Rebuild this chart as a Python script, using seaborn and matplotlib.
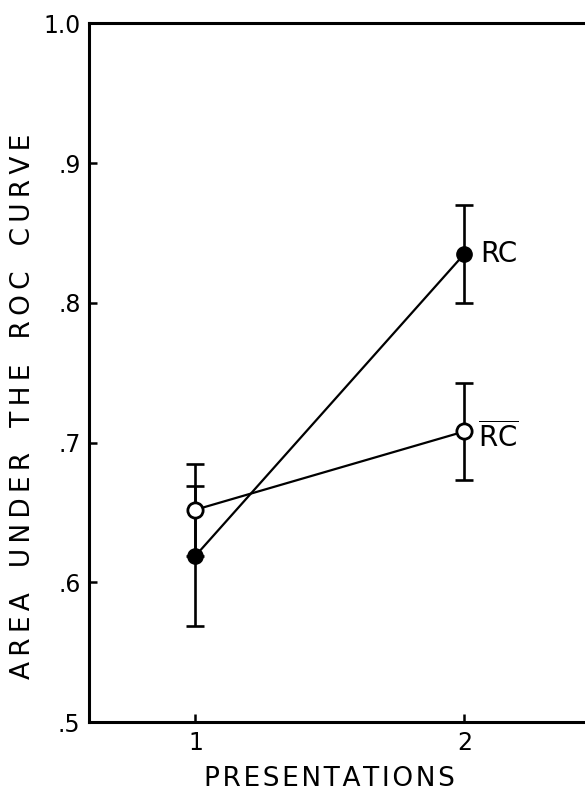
import matplotlib
matplotlib.use("Agg")
import matplotlib.pyplot as plt
import seaborn as sns
import pandas as pd

# data
presentations = [1, 2]
rc_mean = [0.619, 0.835]
rc_err = [0.050, 0.035]
rcbar_mean = [0.652, 0.708]
rcbar_err = [0.033, 0.035]

sns.set_style("ticks")
plt.rcParams['font.family'] = ['DejaVu Sans']
plt.rcParams['mathtext.fontset'] = 'dejavusans'
plt.rcParams['text.color'] = 'black'
plt.rcParams['axes.labelcolor'] = 'black'
plt.rcParams['xtick.color'] = 'black'
plt.rcParams['ytick.color'] = 'black'

df = pd.DataFrame({
    'x': presentations * 2,
    'y': rc_mean + rcbar_mean,
    'grp': ['RC'] * 2 + ['RCbar'] * 2,
})

fig = plt.figure(figsize=(5.85, 8.06), dpi=100)
ax = fig.add_axes([0.152, 0.104, 0.86, 0.867])

sns.lineplot(data=df, x='x', y='y', hue='grp', palette=['black', 'black'],
             linewidth=1.6, legend=False, ax=ax, zorder=2)

# error bars
ax.errorbar(presentations, rc_mean, yerr=rc_err, fmt='none', ecolor='black',
            elinewidth=1.9, capsize=6.5, capthick=1.9, zorder=1)
ax.errorbar(presentations, rcbar_mean, yerr=rcbar_err, fmt='none', ecolor='black',
            elinewidth=1.9, capsize=6.5, capthick=1.9, zorder=1)

# markers
ax.plot(presentations, rc_mean, 'o', color='black', ms=11, zorder=4)
ax.plot(presentations, rcbar_mean, 'o', mfc='white', mec='black', mew=2, ms=11, zorder=4)

ax.text(2.06, rc_mean[1], 'RC', fontsize=20, va='center', ha='left')
ax.text(2.05, rcbar_mean[1] - 0.004, r'$\overline{\mathrm{RC}}$', fontsize=20, va='center', ha='left')

ax.set_xlim(0.604, 2.475)
ax.set_ylim(0.5, 1.0)
ax.set_xticks([1, 2])
ax.set_xticklabels(['1', '2'])
ax.set_yticks([0.5, 0.6, 0.7, 0.8, 0.9, 1.0])
ax.set_yticklabels(['.5', '.6', '.7', '.8', '.9', '1.0'])
ax.tick_params(direction='in', length=6, width=1.8, labelsize=17, pad=6)

for s in ['left', 'bottom', 'top']:
    ax.spines[s].set_linewidth(2.2)
    ax.spines[s].set_color('black')
ax.spines['right'].set_visible(False)

thin = '\u2009'
ylab = '   '.join(thin.join(w) for w in ['AREA', 'UNDER', 'THE', 'ROC', 'CURVE'])
xlab = '\u200a'.join('PRESENTATIONS')
ax.set_xlabel(xlab, fontsize=19)
ax.xaxis.set_label_coords(0.479, -0.062)
ax.set_ylabel(ylab, fontsize=19)
ax.yaxis.set_label_coords(-0.105, 0.452)

fig.savefig('out.png', dpi=100)
